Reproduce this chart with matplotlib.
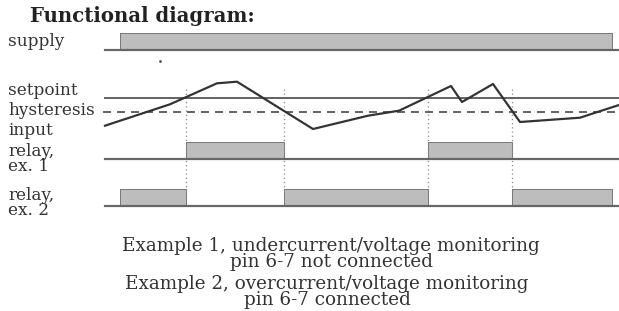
#!/usr/bin/env python3
"""Functional diagram of a monitoring relay (supply / input / relay states)."""
import matplotlib
matplotlib.use("Agg")
import matplotlib.pyplot as plt

# --- diagram data (drawing units = reference pixels, y grows downward) ---
supply_on = [(120, 612)]
relay1_on = [(186, 284), (428, 512)]
relay2_on = [(120, 186), (284, 428), (512, 612)]
switch_times = [186, 284, 428, 512]

input_t = [105, 170, 217, 237, 313, 368, 399, 451, 462, 493, 520, 580, 619]
input_v = [125.7, 104.3, 83.3, 81.7, 129, 115.7, 110.7, 86, 102, 84, 122, 117.7, 105]
setpoint_level = 98
hysteresis_level = 111.5

row_labels = ["supply", "setpoint", "hysteresis", "input", "relay,\nex. 1", "relay,\nex. 2"]
row_label_y = [46, 95, 115, 135, 171, 215]

notes = ["Example 1, undercurrent/voltage monitoring\npin 6-7 not connected",
         "Example 2, overcurrent/voltage monitoring\npin 6-7 connected"]
notes_x = [331, 327]
notes_y = [267, 305]

W, H = 619, 311
T_START, T_END = 105, 619
FILL = '#bdbdbd'
EDGE = '#7a7a7a'
BASE = '#666666'
TEXT = '#333333'
PX = 0.72  # points per pixel at dpi 100

plt.rcParams['lines.scale_dashes'] = False
SERIF = ['DejaVu Serif']


def draw_track(ax, base_y, top_y, intervals):
    for a, b in intervals:
        ax.fill_between([a, b], base_y, top_y, facecolor=FILL, edgecolor='none', zorder=1)
        ax.plot([a, a, b, b], [base_y, top_y, top_y, base_y], color=EDGE, lw=1.0 * PX, zorder=2)
    ax.plot([T_START, T_END], [base_y, base_y], color=BASE, lw=2.2 * PX, zorder=3)


fig = plt.figure(figsize=(W / 100, H / 100), dpi=100)
ax = fig.add_axes([0, 0, 1, 1])
ax.set_xlim(0, W)
ax.set_ylim(H, 0)
ax.axis('off')

ax.text(30, 22, "Functional diagram:", fontsize=14.2, fontweight='bold',
        family=SERIF, color='#222222', va='baseline')

# supply and relay tracks
draw_track(ax, 50, 33, supply_on)
draw_track(ax, 158.5, 142, relay1_on)
draw_track(ax, 206, 189, relay2_on)

# setpoint / hysteresis levels
ax.plot([T_START, T_END], [setpoint_level, setpoint_level], color=BASE, lw=2.0 * PX, zorder=3)
ax.plot([103, T_END], [hysteresis_level, hysteresis_level], color=BASE, lw=2.0 * PX,
        dashes=(8 * PX, 6 * PX), zorder=3)

# input signal
ax.plot(input_t, input_v, color='#333333', lw=2.2 * PX, zorder=4)

# switching instants
for t in switch_times:
    ax.plot([t, t], [89, 190], color='#888888', lw=1.3 * PX, dashes=(1.2 * PX, 3 * PX), zorder=2)

ax.plot([160], [61], marker='.', ms=2, color='#555555')

for lab, y in zip(row_labels, row_label_y):
    ax.text(8, y, lab, fontsize=12.2, family=SERIF, color=TEXT, va='baseline',
            linespacing=0.82)

for txt, x, y in zip(notes, notes_x, notes_y):
    ax.text(x, y, txt, fontsize=13.2, family=SERIF, color=TEXT, va='baseline',
            ha='center', multialignment='center', linespacing=0.86)

fig.savefig('out.png', dpi=100)
